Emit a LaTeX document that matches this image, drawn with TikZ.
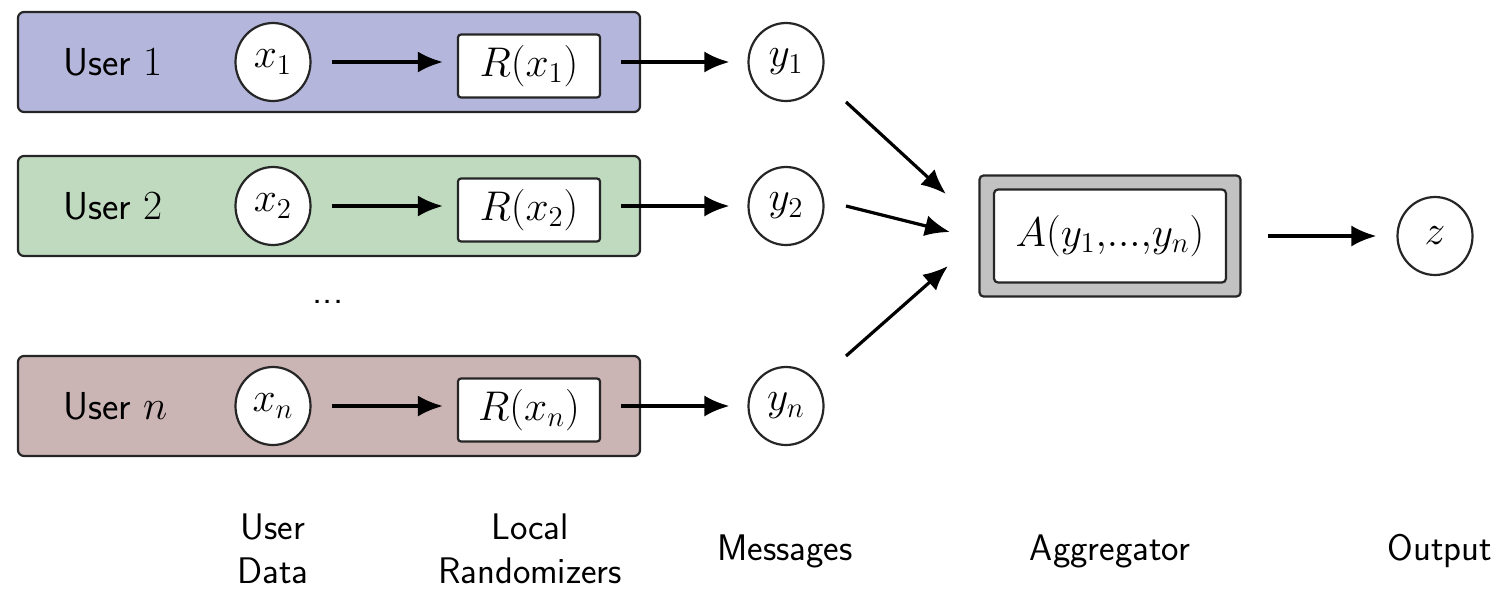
\documentclass[tikz,border=0pt]{standalone}
\usetikzlibrary{arrows.meta,shapes.geometric}
\definecolor{ublue}{HTML}{B4B6DC}
\definecolor{ugreen}{HTML}{C0DAC0}
\definecolor{ured}{HTML}{CBB4B4}
\definecolor{aggray}{HTML}{C2C2C2}
\begin{document}
\begin{tikzpicture}[x=0.5pt,y=-0.5pt,
  every node/.style={font=\sffamily\fontsize{19.5}{22}\selectfont},
  userbox/.style={draw=black!85,line width=1.1pt,rounded corners=3pt,minimum width=311pt,minimum height=50pt,inner sep=0pt},
  datanode/.style={draw=black!85,line width=1.1pt,fill=white,ellipse,minimum width=37.5pt,minimum height=39pt,inner sep=0pt},
  randbox/.style={draw=black!85,line width=1.1pt,fill=white,rounded corners=1.5pt,minimum width=71pt,minimum height=31.5pt,inner sep=0pt},
  arr/.style={line width=1.6pt,-{Latex[length=12.5pt,width=10.5pt]}},
  lbl/.style={align=center,font=\sffamily\fontsize{18.5}{22}\selectfont}
]
\useasboundingbox (0,0) rectangle (1499,590);
% user rows
\node[userbox,fill=ublue] (row1) at (329,62) {};
\node[userbox,fill=ugreen] (row2) at (329,206) {};
\node[userbox,fill=ured] (rown) at (329,406) {};
\node[anchor=west] (u1) at (56,62) {User $1$};
\node[anchor=west] (u2) at (56,206) {User $2$};
\node[anchor=west] (un) at (56,406) {User $n$};
\node[datanode] (x1) at (273,62) {$x_1$};
\node[datanode] (x2) at (273,206) {$x_2$};
\node[datanode] (xn) at (273,406) {$x_n$};
\node[randbox] (r1) at (529,66) {$R(x_1)$};
\node[randbox] (r2) at (529,210) {$R(x_2)$};
\node[randbox] (rn) at (529,410) {$R(x_n)$};
\node (dots) at (328,302) {...};
\node[datanode] (y1) at (786,62) {$y_1$};
\node[datanode] (y2) at (786,206) {$y_2$};
\node[datanode] (yn) at (786,406) {$y_n$};
% aggregator
\node[draw=black!85,line width=1.1pt,fill=aggray,rounded corners=2pt,minimum width=130.5pt,minimum height=60.5pt,inner sep=0pt] (aggout) at (1110,236) {};
\node[draw=black!85,line width=1.1pt,fill=white,rounded corners=2pt,minimum width=116pt,minimum height=46.5pt,inner sep=0pt] (agg) at (1110,236) {$A(y_1,\!...,\!y_n)$};
\node[datanode] (z) at (1435,236) {$z$};
% arrows
\draw[arr] (x1.east) ++(10pt,0) -- ([xshift=-7pt]r1.west |- x1.east);
\draw[arr] (x2.east) ++(10pt,0) -- ([xshift=-7pt]r2.west |- x2.east);
\draw[arr] (xn.east) ++(10pt,0) -- ([xshift=-7pt]rn.west |- xn.east);
\draw[arr] ([xshift=10pt]r1.east |- y1.west) -- ([xshift=-9pt]y1.west);
\draw[arr] ([xshift=10pt]r2.east |- y2.west) -- ([xshift=-9pt]y2.west);
\draw[arr] ([xshift=10pt]rn.east |- yn.west) -- ([xshift=-9pt]yn.west);
\coordinate (t1) at (946,194);
\coordinate (t2) at (950,232);
\coordinate (t3) at (948,266);
\coordinate (s1) at (846,102);
\coordinate (s2) at (846,206);
\coordinate (s3) at (846,356);
\draw[arr] (s1) -- (t1);
\draw[arr] (s2) -- (t2);
\draw[arr] (s3) -- (t3);
\draw[arr] ([xshift=13pt]aggout.east) -- ([xshift=-10pt]z.west);
% bottom labels
\node[lbl] (l1) at (273,549) {User\\Data};
\node[lbl] (l2) at (530,549) {Local\\Randomizers};
\node[lbl] (l3) at (785,551) {Messages};
\node[lbl] (l4) at (1110,551) {Aggregator};
\node[lbl] (l5) at (1440,551) {Output};
\end{tikzpicture}
\end{document}
